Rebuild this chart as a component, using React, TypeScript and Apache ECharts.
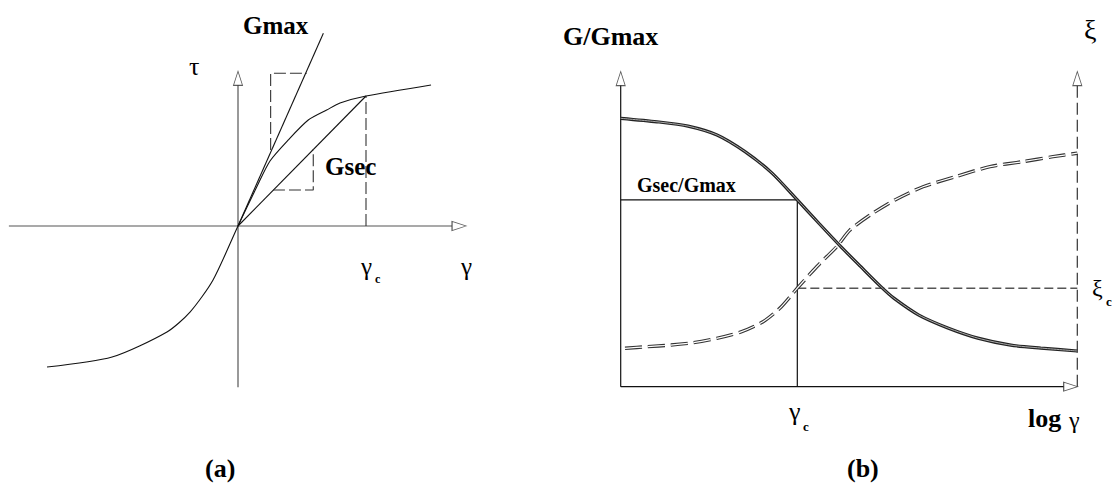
import React, { useEffect, useRef } from "react";
import * as echarts from "echarts";

// ---------- Panel (a): tau - gamma backbone curve ----------
const backboneCurve: number[][] = [
  [-1.492, -1.085], [-0.984, -1.008], [-0.555, -0.815], [-0.375, -0.662],
  [-0.195, -0.415], [0, 0], [0.146, 0.3], [0.25, 0.5], [0.393, 0.662],
  [0.549, 0.815], [0.693, 0.892], [0.797, 0.946], [1, 1], [1.508, 1.085],
];
const gmaxLine: number[][] = [[0, 0], [0.667, 1.482]];
const gsecLine: number[][] = [[0, 0], [1, 1]];
const gammaCDrop: number[][] = [[1, 0], [1, 1]];
const gmaxTriangle: number[][] = [[0.255, 0.585], [0.255, 1.175], [0.537, 1.175]];
const gsecTriangle: number[][] = [[0.273, 0.277], [0.588, 0.277], [0.588, 0.592]];
const aXAxisLine: number[][] = [[-1.79, 0], [1.672, 0]];
const aYAxisLine: number[][] = [[0, -1.24], [0, 1.085]];
const aXArrow: number[][] = [[1.727, 0]];
const aYArrow: number[][] = [[0, 1.136]];

// ---------- Panel (b): G/Gmax and damping vs log gamma ----------
const modulusCurve: number[][] = [
  [0, 1.0], [0.795, 0.987], [1.474, 0.971], [2.109, 0.938], [2.722, 0.876],
  [3.314, 0.796], [3.868, 0.696], [4.35, 0.607], [4.821, 0.522], [5.259, 0.447],
  [5.697, 0.373], [5.982, 0.33], [6.529, 0.267], [7.164, 0.219], [7.821, 0.181],
  [8.544, 0.155], [9.2, 0.144], [10, 0.133],
];
const dampingCurve: number[][] = [
  [0.094, 0.143], [0.569, 0.149], [1.08, 0.155], [1.583, 0.164], [2.102, 0.18],
  [2.65, 0.205], [3.117, 0.242], [3.489, 0.293], [3.868, 0.367], [4.293, 0.447],
  [4.731, 0.522], [5.022, 0.584], [5.526, 0.647], [6.007, 0.696], [6.621, 0.745],
  [7.322, 0.782], [8.088, 0.82], [8.789, 0.838], [9.468, 0.857], [10, 0.87],
];
const gsecLevel: number[][] = [[0, 0.696], [3.868, 0.696], [3.868, 0]];
const xiCLevel: number[][] = [[3.868, 0.367], [10, 0.367]];
const bLeftAxis: number[][] = [[0, 0], [0, 1.124]];
const bBottomAxis: number[][] = [[0, 0], [9.709, 0]];
const bRightAxis: number[][] = [[10, 0], [10, 1.124]];
const bUpArrows: number[][] = [[0, 1.148], [10, 1.148]];
const bRightArrow: number[][] = [[9.855, 0]];

const SERIF = "Liberation Serif";

function seg(data: number[][], gi: number, color: string, width: number, type: any = "solid", smooth: any = false, z = 2): any {
  return {
    type: "line",
    xAxisIndex: gi,
    yAxisIndex: gi,
    data,
    smooth,
    showSymbol: false,
    symbol: "none",
    silent: true,
    clip: false,
    z,
    lineStyle: { color, width, type, cap: "butt" },
  };
}

function arrow(data: number[][], gi: number, rotate: number): any {
  return {
    type: "scatter",
    xAxisIndex: gi,
    yAxisIndex: gi,
    data,
    symbol: "triangle",
    symbolSize: [9, 14],
    symbolRotate: rotate,
    silent: true,
    clip: false,
    z: 5,
    itemStyle: { color: "#fff", borderColor: "#333", borderWidth: 1 },
  };
}

function txt(text: string, x: number, y: number, size: number, bold = false): any {
  return {
    type: "text",
    x,
    y,
    silent: true,
    style: {
      text,
      fontFamily: SERIF,
      fontSize: size,
      fontWeight: bold ? "bold" : "normal",
      fill: "#000",
      align: "left",
      verticalAlign: "middle",
    },
  };
}

export default function App() {
  const ref = useRef<HTMLDivElement>(null);
  useEffect(() => {
    document.body.style.margin = "0";
    if (!ref.current) return;
    const chart = echarts.init(ref.current, undefined, { renderer: "svg" });
    const axisHidden = { show: false, splitLine: { show: false } };
    chart.setOption({
      animation: false,
      backgroundColor: "#fff",
      grid: [
        { left: 7.6, top: 18, width: 460.8, height: 370.5 },
        { left: 620.7, top: 64.62, width: 456.6, height: 322.08 },
      ],
      xAxis: [
        { type: "value", gridIndex: 0, min: -1.8, max: 1.8, ...axisHidden },
        { type: "value", gridIndex: 1, min: 0, max: 10, ...axisHidden },
      ],
      yAxis: [
        { type: "value", gridIndex: 0, min: -1.25, max: 1.6, ...axisHidden },
        { type: "value", gridIndex: 1, min: 0, max: 1.2, ...axisHidden },
      ],
      series: [
        // panel a
        seg(aXAxisLine, 0, "#555", 1.2),
        seg(aYAxisLine, 0, "#555", 1.2),
        arrow(aXArrow, 0, -90),
        arrow(aYArrow, 0, 0),
        seg(backboneCurve, 0, "#111", 1.1, "solid", 0.25, 3),
        seg(gmaxLine, 0, "#111", 1.1),
        seg(gsecLine, 0, "#111", 1.1),
        seg(gammaCDrop, 0, "#333", 1.1, [12, 4]),
        seg(gmaxTriangle, 0, "#333", 1.1, [12, 4]),
        seg(gsecTriangle, 0, "#333", 1.1, [12, 4]),
        // panel b
        seg(bLeftAxis, 1, "#111", 1.2),
        seg(bBottomAxis, 1, "#111", 1.2),
        seg(bRightAxis, 1, "#333", 1.2, [12, 5]),
        arrow(bUpArrows, 1, 0),
        arrow(bRightArrow, 1, -90),
        seg(gsecLevel, 1, "#111", 1.2),
        seg(xiCLevel, 1, "#555", 1.5, [9, 4]),
        seg(modulusCurve, 1, "#222", 3.2, "solid", 0.25, 3),
        seg(modulusCurve, 1, "#aaa", 1.0, "solid", 0.25, 4),
        seg(dampingCurve, 1, "#333", 3.4, [17, 6], 0.25, 3),
        seg(dampingCurve, 1, "#fff", 1.2, [17, 6], 0.25, 4),
      ],
      graphic: [
        txt("Gmax", 243, 25.5, 25, true),
        txt("τ", 189, 66, 26),
        txt("Gsec", 325, 166.5, 25, true),
        txt("γ", 461, 266.5, 25),
        txt("γ", 361, 266.5, 25),
        txt("c", 375, 279, 12, true),
        txt("(a)", 205, 468, 26, true),
        txt("G/Gmax", 563, 36, 26, true),
        txt("ξ", 1084, 29.5, 28),
        txt("Gsec/Gmax", 637, 185, 20, true),
        txt("γ", 789, 411, 26),
        txt("c", 803, 426, 13, true),
        txt("ξ", 1092, 288, 24),
        txt("c", 1106, 301, 13, true),
        txt("log", 1028, 418, 26, true),
        txt("γ", 1069, 420, 24),
        txt("(b)", 847, 468, 26, true),
      ],
    });
    return () => chart.dispose();
  }, []);
  return <div ref={ref} style={{ width: 1119, height: 485 }} />;
}
